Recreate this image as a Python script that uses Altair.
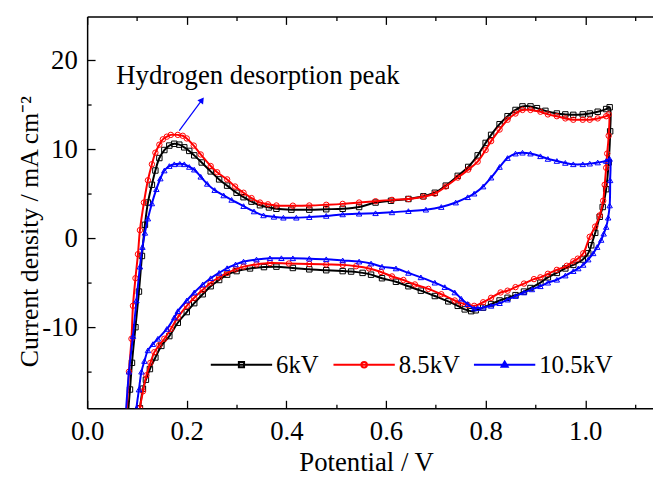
import altair as alt
import pandas as pd

# ---------------- data ----------------
series_names = ["6kV", "8.5kV", "10.5kV"]
series_colors = ["#000000", "#ff0000", "#0000ff"]
marker_shapes = ["square", "circle", "triangle-up"]

# 6 kV : anodic sweep then cathodic sweep
kv6_up_x = [0.080, 0.086, 0.090, 0.097, 0.104, 0.110, 0.116, 0.122, 0.130, 0.137,
            0.145, 0.155, 0.165, 0.175, 0.185, 0.195, 0.205, 0.215, 0.230, 0.248,
            0.265, 0.281, 0.300, 0.314, 0.330, 0.347, 0.365, 0.380, 0.410, 0.446,
            0.480, 0.513, 0.546, 0.579, 0.610, 0.645, 0.675, 0.698, 0.720, 0.744,
            0.765, 0.784, 0.800, 0.811, 0.828, 0.844, 0.860, 0.874, 0.890, 0.903,
            0.920, 0.943, 0.960, 0.976, 0.995, 1.009, 1.025, 1.042, 1.049]
kv6_up_y = [-21.0, -17.0, -14.0, -10.0, -6.0, -2.0, 1.5, 4.0, 6.0, 7.6,
            9.0, 9.9, 10.4, 10.6, 10.5, 10.2, 9.8, 9.3, 8.5, 7.5,
            6.6, 5.9, 5.1, 4.6, 4.1, 3.7, 3.45, 3.3, 3.2, 3.2,
            3.25, 3.3, 3.5, 4.0, 4.2, 4.4, 4.7, 5.1, 5.9, 7.0,
            8.0, 9.3, 10.7, 11.6, 12.8, 13.7, 14.4, 14.8, 14.8, 14.6,
            14.3, 14.0, 13.9, 13.85, 13.9, 14.0, 14.2, 14.5, 14.7]
kv6_dn_x = [1.050, 1.047, 1.042, 1.035, 1.029, 1.020, 1.012, 1.006, 0.995, 0.976,
            0.960, 0.943, 0.925, 0.910, 0.890, 0.877, 0.860, 0.844, 0.828, 0.811,
            0.795, 0.780, 0.771, 0.758, 0.744, 0.725, 0.698, 0.670, 0.645, 0.620,
            0.592, 0.570, 0.553, 0.530, 0.513, 0.480, 0.446, 0.413, 0.380, 0.355,
            0.327, 0.300, 0.281, 0.265, 0.248, 0.232, 0.215, 0.200, 0.182, 0.165,
            0.149, 0.137, 0.126, 0.118, 0.112, 0.106, 0.102]
kv6_dn_y = [12.0, 8.5, 5.5, 3.5, 2.4, 0.6, -0.8, -1.7, -2.4, -3.0,
            -3.4, -3.9, -4.4, -5.0, -5.6, -6.0, -6.4, -6.7, -7.0, -7.4,
            -7.8, -8.1, -8.2, -8.0, -7.6, -7.1, -6.5, -5.9, -5.4, -4.9,
            -4.5, -4.1, -3.9, -3.75, -3.7, -3.6, -3.5, -3.35, -3.2, -3.25,
            -3.4, -3.7, -4.1, -4.7, -5.4, -6.3, -7.3, -8.3, -9.5, -11.0,
            -12.1, -13.4, -14.7, -15.9, -16.9, -19.1, -21.0]

# 8.5 kV
kv85_up_x = [0.078, 0.084, 0.089, 0.092, 0.097, 0.102, 0.106, 0.114, 0.122, 0.130,
             0.137, 0.145, 0.152, 0.160, 0.168, 0.182, 0.192, 0.200, 0.214, 0.228,
             0.248, 0.261, 0.281, 0.297, 0.314, 0.330, 0.347, 0.363, 0.380, 0.413,
             0.446, 0.480, 0.513, 0.546, 0.579, 0.612, 0.645, 0.675, 0.698, 0.720,
             0.744, 0.765, 0.784, 0.800, 0.811, 0.828, 0.844, 0.860, 0.874, 0.890,
             0.910, 0.925, 0.943, 0.960, 0.976, 0.995, 1.009, 1.025, 1.042, 1.047]
kv85_up_y = [-21.0, -15.0, -11.3, -7.6, -4.5, -1.8, 0.9, 4.0, 6.5, 8.3,
             9.6, 10.5, 11.1, 11.4, 11.6, 11.6, 11.5, 11.2, 10.4, 9.4,
             8.1, 7.4, 6.6, 5.8, 5.1, 4.5, 4.0, 3.8, 3.67, 3.65,
             3.67, 3.75, 3.85, 4.0, 4.15, 4.3, 4.4, 4.65, 5.0, 5.8,
             6.8, 7.7, 8.6, 9.9, 10.9, 12.2, 13.3, 14.0, 14.4, 14.4,
             14.2, 13.9, 13.7, 13.45, 13.3, 13.3, 13.3, 13.45, 13.7, 13.9]
kv85_dn_x = [1.047, 1.044, 1.042, 1.039, 1.036, 1.029, 1.020, 1.009, 0.996, 0.985,
             0.976, 0.963, 0.943, 0.925, 0.910, 0.897, 0.877, 0.860, 0.844, 0.830,
             0.811, 0.795, 0.777, 0.764, 0.751, 0.738, 0.711, 0.685, 0.658, 0.635,
             0.612, 0.590, 0.566, 0.540, 0.513, 0.480, 0.446, 0.405, 0.367, 0.340,
             0.314, 0.298, 0.281, 0.265, 0.248, 0.232, 0.215, 0.200, 0.182, 0.168,
             0.155, 0.145, 0.135, 0.127, 0.119, 0.112, 0.106, 0.102]
kv85_dn_y = [11.5, 9.5, 7.9, 6.0, 4.2, 2.56, 1.3, 0.15, -1.7, -2.3,
             -2.6, -3.1, -3.56, -4.0, -4.4, -4.6, -5.1, -5.5, -5.9, -6.1,
             -6.7, -7.2, -7.6, -7.5, -7.3, -7.0, -6.3, -5.7, -5.2, -4.7,
             -4.3, -3.8, -3.4, -3.15, -3.0, -2.95, -2.9, -2.85, -2.8, -2.95,
             -3.2, -3.5, -3.9, -4.4, -5.0, -5.8, -6.7, -7.6, -8.9, -10.2,
             -11.3, -12.0, -12.8, -14.0, -15.4, -17.2, -19.1, -21.0]

# 10.5 kV
kv105_up_x = [0.076, 0.084, 0.092, 0.099, 0.106, 0.111, 0.116, 0.122, 0.130, 0.139,
              0.147, 0.155, 0.165, 0.175, 0.186, 0.195, 0.205, 0.215, 0.228, 0.241,
              0.256, 0.274, 0.290, 0.314, 0.335, 0.354, 0.375, 0.394, 0.420, 0.446,
              0.480, 0.513, 0.546, 0.579, 0.612, 0.645, 0.680, 0.711, 0.740, 0.764,
              0.777, 0.795, 0.811, 0.828, 0.844, 0.860, 0.874, 0.890, 0.910, 0.925,
              0.943, 0.960, 0.976, 0.995, 1.009, 1.025, 1.042, 1.049]
kv105_up_y = [-21.0, -15.0, -11.0, -7.0, -3.2, -1.0, 0.6, 2.2, 3.9, 5.5,
              6.7, 7.6, 8.1, 8.3, 8.35, 8.3, 8.0, 7.7, 6.9, 6.1,
              5.4, 4.8, 4.3, 3.6, 3.0, 2.56, 2.4, 2.3, 2.3, 2.37,
              2.5, 2.67, 2.75, 2.8, 2.9, 3.04, 3.2, 3.5, 4.0, 4.6,
              5.0, 5.8, 6.8, 8.0, 9.0, 9.5, 9.6, 9.5, 9.2, 8.9,
              8.67, 8.45, 8.3, 8.3, 8.37, 8.5, 8.67, 8.9]
kv105_dn_x = [1.050, 1.049, 1.046, 1.042, 1.037, 1.032, 1.024, 1.016, 1.006, 0.996,
              0.986, 0.976, 0.960, 0.943, 0.925, 0.910, 0.893, 0.877, 0.860, 0.844,
              0.828, 0.811, 0.795, 0.784, 0.777, 0.764, 0.751, 0.738, 0.718, 0.698,
              0.670, 0.645, 0.620, 0.592, 0.570, 0.546, 0.513, 0.480, 0.446, 0.413,
              0.390, 0.367, 0.340, 0.314, 0.298, 0.281, 0.265, 0.248, 0.232, 0.215,
              0.200, 0.182, 0.175, 0.160, 0.142, 0.132, 0.122, 0.115, 0.109, 0.104,
              0.099, 0.097]
kv105_dn_y = [6.5, 3.67, 2.3, 1.26, 0.5, -0.2, -1.0, -1.7, -2.4, -3.0,
              -3.4, -3.7, -4.2, -4.67, -5.0, -5.4, -5.75, -6.1, -6.5, -6.9,
              -7.3, -7.6, -7.8, -7.85, -7.9, -7.4, -6.8, -6.1, -5.5, -5.0,
              -4.4, -3.9, -3.4, -3.2, -2.85, -2.63, -2.5, -2.37, -2.3, -2.26,
              -2.25, -2.26, -2.4, -2.63, -2.95, -3.37, -3.9, -4.5, -5.2, -6.1,
              -7.0, -8.2, -8.9, -10.2, -11.3, -11.9, -12.6, -13.8, -15.0, -17.0,
              -19.1, -21.0]

x_major = [0.0, 0.2, 0.4, 0.6, 0.8, 1.0]
x_minor = [0.1, 0.3, 0.5, 0.7, 0.9, 1.1]
y_major = [-10, 0, 10, 20]
y_minor = [-15, -5, 5, 15]

annot_x = [0.0586]
annot_y = [17.33]
annot_text = ["Hydrogen desorption peak"]
arrow_x = [0.185, 0.2306]
arrow_y = [12.08, 15.53]

# ---------------- table ----------------
rows = []
curves = [
    ("6kV", kv6_up_x + kv6_dn_x, kv6_up_y + kv6_dn_y),
    ("8.5kV", kv85_up_x + kv85_dn_x, kv85_up_y + kv85_dn_y),
    ("10.5kV", kv105_up_x + kv105_dn_x, kv105_up_y + kv105_dn_y),
]
for name, xs_, ys_ in curves:
    assert len(xs_) == len(ys_), name
    for i, (a, b) in enumerate(zip(xs_, ys_)):
        rows.append({"series": name, "i": i, "x": a, "y": b})
df = pd.DataFrame(rows)
arrow_df = pd.DataFrame({"x": arrow_x, "y": arrow_y})
head_df = pd.DataFrame({"x": arrow_x[-1:], "y": arrow_y[-1:]})
annot_df = pd.DataFrame({"x": annot_x, "y": annot_y, "t": annot_text})

W, H = 572, 396
FONT = "Liberation Serif"
xsc = alt.Scale(domain=[0, 1.136], nice=False, zero=False)
ysc = alt.Scale(domain=[-19.1, 24.9], nice=False, zero=False)


def X(axis=None):
    return alt.X("x:Q", scale=xsc, axis=axis)


def Y(axis=None):
    return alt.Y("y:Q", scale=ysc, axis=axis)


empty = alt.Chart(df).transform_filter("datum.x > 99")


def tick_axis(orient, offset, values, size, domain=False):
    return alt.Axis(orient=orient, offset=offset, values=values, labels=False,
                    ticks=True, tickSize=size, tickWidth=1.3, tickColor="black",
                    domain=domain, domainColor="black", domainWidth=1.5,
                    title=None, grid=False)


x_main = alt.Axis(orient="bottom", values=x_major, ticks=False, tickSize=0,
                  labelExpr="format(datum.value, '.1f')", labelFlush=False,
                  labelOverlap=False, labelFont=FONT, labelFontSize=27,
                  labelColor="black", labelPadding=11,
                  domain=True, domainColor="black", domainWidth=1.5,
                  title="Potential / V", titleFont=FONT, titleFontSize=27,
                  titleFontWeight="normal", titleColor="black",
                  titleBaseline="alphabetic", titleAlign="center",
                  titleX=282, titleY=63)
y_main = alt.Axis(orient="left", values=y_major, ticks=False, tickSize=0,
                  labelExpr="datum.value < 0 ? '-' + format(-datum.value, 'd') : format(datum.value, 'd')",
                  labelFlush=False, labelOverlap=False, labelFont=FONT,
                  labelFontSize=27, labelColor="black", labelPadding=10,
                  domain=True, domainColor="black", domainWidth=1.5,
                  title="Current density / mA cm\u207b\u00b2", titleFont=FONT,
                  titleFontSize=26, titleFontWeight="normal", titleColor="black",
                  titleAngle=270, titleBaseline="alphabetic", titleAlign="center",
                  titleX=-50, titleY=217)

axis_layers = [
    empty.mark_point(opacity=0).encode(x=X(x_main), y=Y(y_main)),
    empty.mark_point(opacity=0).encode(
        x=X(tick_axis("top", -H, x_major, 8)),
        y=Y(tick_axis("right", -W, y_major, 8))),
    empty.mark_point(opacity=0).encode(
        x=X(tick_axis("top", -H, x_minor, 4)),
        y=Y(tick_axis("right", -W, y_minor, 4))),
    empty.mark_point(opacity=0).encode(
        x=X(tick_axis("bottom", -H, x_major, 8, domain=True)), y=Y()),
    empty.mark_point(opacity=0).encode(
        x=X(tick_axis("bottom", -H, x_minor, 4)), y=Y()),
]

data_layers = []
for name, col, shp in zip(series_names, series_colors, marker_shapes):
    src = alt.Chart(df).transform_filter(alt.datum.series == name)
    data_layers.append(
        src.mark_line(color=col, strokeWidth=2, clip=True, interpolate="catmull-rom")
        .encode(x=X(), y=Y(), order="i:Q"))
    data_layers.append(
        src.mark_point(shape=shp, color=col, filled=False, size=30,
                       strokeWidth=1, opacity=1, clip=True)
        .encode(x=X(), y=Y()))

arrow_line = alt.Chart(arrow_df).mark_line(color="#0000ff", strokeWidth=1.2).encode(x=X(), y=Y())
arrow_head = alt.Chart(head_df).mark_point(shape="triangle-up", filled=True, color="#0000ff",
                                           size=50, angle=36, opacity=1).encode(x=X(), y=Y())
annot = alt.Chart(annot_df).mark_text(align="left", baseline="alphabetic", font=FONT,
                                      fontSize=27, color="black").encode(x=X(), y=Y(), text="t:N")

legend_paths = [
    "M-1,0H1M-0.085,-0.085H0.085V0.085H-0.085Z",
    "M-1,0H1M0.09,0A0.09,0.09,0,1,1,-0.09,0A0.09,0.09,0,1,1,0.09,0",
    "M-1,0H1M0,-0.1L0.1,0.07L-0.1,0.07Z",
]
leg = alt.Legend(orient="none", legendX=124, legendY=320, direction="horizontal",
                 title=None, labelFont=FONT, labelFontSize=25, labelColor="black",
                 symbolSize=3844, symbolStrokeWidth=2, labelOffset=3,
                 columnPadding=10, padding=0)
legend_layer = empty.mark_point(filled=False, opacity=1).encode(
    x=X(), y=Y(),
    color=alt.Color("series:N", scale=alt.Scale(domain=series_names, range=series_colors),
                    legend=leg),
    shape=alt.Shape("series:N", scale=alt.Scale(domain=series_names, range=legend_paths),
                    legend=leg),
)

chart = alt.layer(*axis_layers, *data_layers, arrow_line, arrow_head, annot, legend_layer).resolve_axis(
    x="independent", y="independent"
).properties(
    width=W, height=H,
    autosize=alt.AutoSizeParams(type="none"),
    padding={"left": 80, "top": 6, "right": 0, "bottom": 70},
).configure_view(stroke=None).configure_axis(grid=False)

chart.save("out.html", embed_options={"renderer": "svg", "actions": False})
